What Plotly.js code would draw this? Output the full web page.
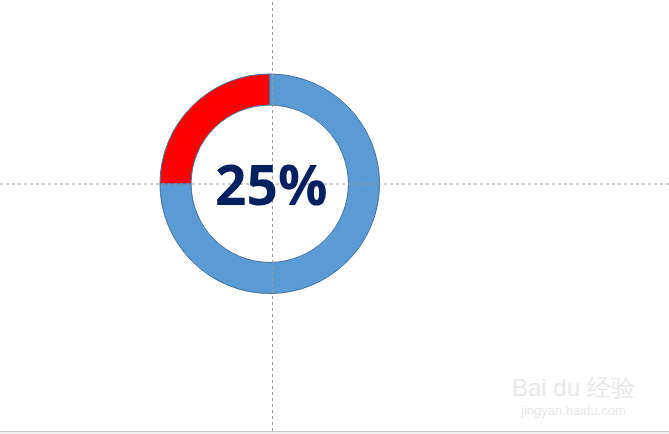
<!DOCTYPE html>
<html>
<head>
<meta charset="utf-8">
<script src="https://cdn.plot.ly/plotly-3.0.1.min.js"></script>
<style>html,body{margin:0;padding:0;background:#fff;}#chart{width:669px;height:434px;}</style>
</head>
<body>
<div id="chart"></div>
<script>
const labels = ["完成", "未完成"];
const values = [25, 75];
const sliceColors = ["#FF0000", "#5B9BD5"];
const centerText = "25%";
const watermarkMain = "Bai du 经验";
const watermarkSub = "jingyan.baidu.com";

const W = 669, H = 434;
const px = x => x / W;
const py = y => 1 - y / H;

const trace = {
  type: "pie",
  labels: labels,
  values: values,
  sort: false,
  direction: "clockwise",
  rotation: -90,
  hole: 0.717,
  textinfo: "none",
  hoverinfo: "label+percent",
  marker: {colors: sliceColors, line: {color: "#41719C", width: 1}},
  domain: {x: [px(160), px(379.5)], y: [py(293.5), py(74)]},
  showlegend: false
};

const layout = {
  width: W, height: H,
  margin: {l: 0, r: 0, t: 0, b: 0},
  paper_bgcolor: "#ffffff",
  showlegend: false,
  shapes: [
    {type: "line", xref: "paper", yref: "paper", x0: px(272.5), x1: px(272.5), y0: py(431), y1: 1,
     line: {color: "#9a9a9a", width: 1, dash: "3px,3px"}, layer: "above"},
    {type: "line", xref: "paper", yref: "paper", x0: 0, x1: 1, y0: py(184), y1: py(184),
     line: {color: "#9a9a9a", width: 1, dash: "3px,3px"}, layer: "above"},
    {type: "rect", xref: "paper", yref: "paper", x0: 0, x1: 1, y0: 0, y1: py(431.5),
     fillcolor: "#f0f0f0", line: {width: 0}, layer: "above"},
    {type: "line", xref: "paper", yref: "paper", x0: 0, x1: 1, y0: py(431.5), y1: py(431.5),
     line: {color: "#c4c4c4", width: 1}, layer: "above"}
  ],
  annotations: [
    {text: "<b>" + centerText + "</b>", xref: "paper", yref: "paper", x: px(271), y: py(183),
     xanchor: "center", yanchor: "middle", showarrow: false,
     font: {family: "Open Sans, sans-serif", size: 55, color: "#002060"}},
    {text: watermarkMain, xref: "paper", yref: "paper", x: px(573), y: py(387),
     xanchor: "center", yanchor: "middle", showarrow: false,
     font: {family: "Arial, sans-serif", size: 24, color: "#e8e8e8"}},
    {text: watermarkSub, xref: "paper", yref: "paper", x: px(573), y: py(410),
     xanchor: "center", yanchor: "middle", showarrow: false,
     font: {family: "Arial, sans-serif", size: 13, color: "#e8e8e8"}}
  ]
};

Plotly.newPlot("chart", [trace], layout, {displayModeBar: false, staticPlot: true});
</script>
</body>
</html>
